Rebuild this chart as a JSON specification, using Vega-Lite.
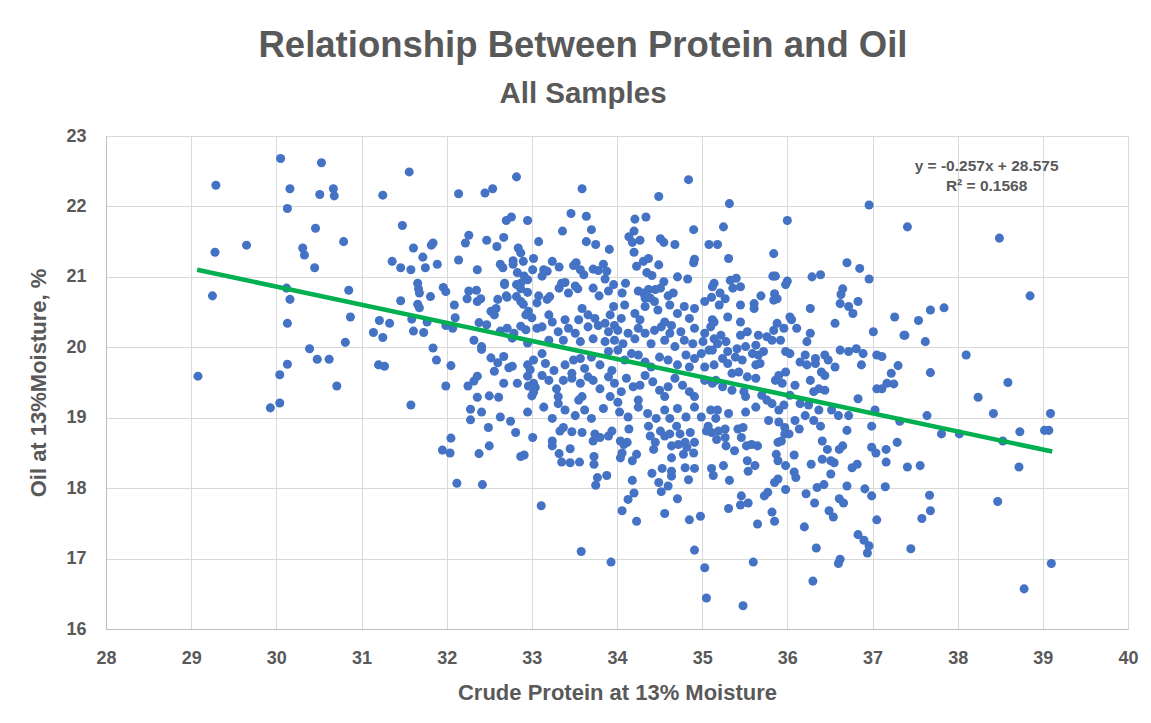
{
"$schema":"https://vega.github.io/schema/vega-lite/v6.json",
"width":1022,"height":493,
"autosize":{"type":"none"},
"padding":{"left":106,"top":136,"right":23,"bottom":94},
"background":"white",
"config":{"font":"Liberation Sans","view":{"stroke":null}},
"title":{"text":"Relationship Between Protein and Oil","subtitle":"All Samples","anchor":"middle","dx":-34,"font":"Liberation Sans","fontSize":36.5,"fontWeight":"bold","color":"#595959","subtitleFont":"Liberation Sans","subtitleFontSize":29.5,"subtitleFontWeight":"bold","subtitleColor":"#595959","subtitlePadding":15,"offset":19},
"datasets":{
"samples":[
{"protein":30.05,"oil":22.68},{"protein":30.53,"oil":22.62},{"protein":29.29,"oil":22.30},{"protein":30.16,"oil":22.25},{"protein":30.51,"oil":22.17},{"protein":30.67,"oil":22.25},{"protein":30.68,"oil":22.15},{"protein":30.13,"oil":21.97},{"protein":30.46,"oil":21.69},{"protein":29.65,"oil":21.45},{"protein":29.28,"oil":21.35},{"protein":30.31,"oil":21.41},{"protein":30.33,"oil":21.31},{"protein":30.79,"oil":21.50},{"protein":30.45,"oil":21.13},{"protein":30.12,"oil":20.84},{"protein":30.16,"oil":20.68},{"protein":30.85,"oil":20.81},{"protein":29.25,"oil":20.73},{"protein":30.87,"oil":20.43},{"protein":30.13,"oil":20.34},{"protein":30.81,"oil":20.07},{"protein":30.39,"oil":19.98},{"protein":30.48,"oil":19.83},{"protein":30.62,"oil":19.83},{"protein":30.13,"oil":19.76},{"protein":29.08,"oil":19.59},{"protein":30.04,"oil":19.61},{"protein":30.71,"oil":19.45},{"protein":30.04,"oil":19.21},{"protein":29.93,"oil":19.14},
{"protein":31.56,"oil":22.49},{"protein":31.25,"oil":22.16},{"protein":32.14,"oil":22.18},{"protein":32.45,"oil":22.19},{"protein":32.54,"oil":22.25},{"protein":32.82,"oil":22.42},{"protein":33.59,"oil":22.25},
{"protein":31.48,"oil":21.73},{"protein":32.70,"oil":21.80},{"protein":32.76,"oil":21.85},{"protein":32.95,"oil":21.80},{"protein":33.46,"oil":21.90},{"protein":33.64,"oil":21.86},{"protein":33.36,"oil":21.65},{"protein":33.70,"oil":21.67},{"protein":32.26,"oil":21.59},{"protein":32.22,"oil":21.48},{"protein":32.47,"oil":21.52},{"protein":32.59,"oil":21.43},{"protein":32.67,"oil":21.56},{"protein":33.08,"oil":21.50},{"protein":33.64,"oil":21.50},{"protein":33.75,"oil":21.46},{"protein":33.91,"oil":21.39},{"protein":31.61,"oil":21.41},{"protein":31.84,"oil":21.48},{"protein":31.82,"oil":21.45},{"protein":31.72,"oil":21.28},{"protein":31.36,"oil":21.22},{"protein":31.46,"oil":21.13},{"protein":31.58,"oil":21.10},{"protein":31.75,"oil":21.13},{"protein":31.89,"oil":21.18},{"protein":32.14,"oil":21.24},{"protein":32.36,"oil":21.10},{"protein":32.84,"oil":21.41},{"protein":32.87,"oil":21.34},{"protein":32.63,"oil":21.18},{"protein":32.66,"oil":21.13},{"protein":32.78,"oil":21.23},{"protein":32.78,"oil":21.18},{"protein":32.90,"oil":21.22},{"protein":33.02,"oil":21.26},{"protein":33.24,"oil":21.22},{"protein":33.32,"oil":21.14},{"protein":33.52,"oil":21.20},{"protein":33.49,"oil":21.16},{"protein":33.57,"oil":21.10},{"protein":33.61,"oil":21.03},{"protein":33.72,"oil":21.11},{"protein":33.78,"oil":21.09},{"protein":33.84,"oil":21.18},{"protein":33.88,"oil":21.08},{"protein":33.86,"oil":20.97},{"protein":33.14,"oil":21.10},{"protein":33.18,"oil":21.08},{"protein":33.12,"oil":21.01},{"protein":33.01,"oil":21.10},{"protein":32.83,"oil":21.06},{"protein":32.91,"oil":21.01},{"protein":32.95,"oil":20.96},{"protein":32.87,"oil":20.91},
{"protein":31.66,"oil":20.91},{"protein":31.67,"oil":20.83},{"protein":31.68,"oil":20.77},{"protein":31.96,"oil":20.85},{"protein":31.99,"oil":20.79},{"protein":31.81,"oil":20.72},{"protein":31.46,"oil":20.66},{"protein":31.66,"oil":20.61},{"protein":31.68,"oil":20.56},{"protein":32.09,"oil":20.60},{"protein":32.26,"oil":20.80},{"protein":32.35,"oil":20.81},{"protein":32.36,"oil":20.65},{"protein":32.24,"oil":20.69},{"protein":32.40,"oil":20.69},{"protein":32.60,"oil":20.68},{"protein":32.68,"oil":20.91},{"protein":32.68,"oil":20.89},{"protein":32.70,"oil":20.73},{"protein":32.71,"oil":20.71},{"protein":32.82,"oil":20.89},{"protein":32.87,"oil":20.83},{"protein":32.95,"oil":20.78},{"protein":32.82,"oil":20.72},{"protein":32.87,"oil":20.65},{"protein":32.90,"oil":20.61},{"protein":33.06,"oil":20.63},{"protein":33.08,"oil":20.73},{"protein":33.18,"oil":20.68},{"protein":33.21,"oil":20.72},{"protein":33.35,"oil":20.91},{"protein":33.39,"oil":20.92},{"protein":33.32,"oil":20.84},{"protein":33.43,"oil":20.77},{"protein":33.51,"oil":20.87},{"protein":33.54,"oil":20.83},{"protein":33.72,"oil":20.84},{"protein":33.79,"oil":20.73},{"protein":33.90,"oil":20.80},{"protein":33.96,"oil":20.89},
{"protein":32.58,"oil":20.55},{"protein":32.52,"oil":20.51},{"protein":32.56,"oil":20.46},{"protein":32.93,"oil":20.46},{"protein":33.00,"oil":20.42},{"protein":32.96,"oil":20.51},
{"protein":31.21,"oil":20.38},{"protein":31.33,"oil":20.34},{"protein":31.14,"oil":20.21},{"protein":31.25,"oil":20.14},{"protein":31.59,"oil":20.40},{"protein":31.61,"oil":20.23},{"protein":31.73,"oil":20.21},{"protein":31.77,"oil":20.36},{"protein":31.99,"oil":20.31},{"protein":32.07,"oil":20.27},{"protein":32.10,"oil":20.42},{"protein":32.38,"oil":20.35},{"protein":32.47,"oil":20.32},{"protein":32.32,"oil":20.10},{"protein":32.41,"oil":20.01},{"protein":32.41,"oil":19.97},{"protein":32.63,"oil":20.23},{"protein":32.71,"oil":20.27},{"protein":32.77,"oil":20.13},{"protein":32.79,"oil":20.20},{"protein":32.87,"oil":20.30},{"protein":32.93,"oil":20.25},{"protein":33.06,"oil":20.27},{"protein":32.95,"oil":20.06},
{"protein":31.84,"oil":19.99},{"protein":31.88,"oil":19.82},{"protein":31.20,"oil":19.75},{"protein":31.27,"oil":19.73},{"protein":32.05,"oil":19.74},{"protein":32.52,"oil":19.85},{"protein":32.67,"oil":19.87},{"protein":32.60,"oil":19.78},{"protein":32.56,"oil":19.66},{"protein":32.36,"oil":19.59},{"protein":32.32,"oil":19.52},{"protein":32.73,"oil":19.71},{"protein":32.77,"oil":19.73},{"protein":32.95,"oil":19.75},{"protein":33.02,"oil":19.82},{"protein":32.98,"oil":19.68},{"protein":32.95,"oil":19.59},{"protein":33.02,"oil":19.49},{"protein":31.99,"oil":19.45},{"protein":32.25,"oil":19.45},{"protein":32.67,"oil":19.49},{"protein":32.83,"oil":19.49},
{"protein":31.58,"oil":19.18},{"protein":32.36,"oil":19.29},{"protein":32.50,"oil":19.31},{"protein":32.61,"oil":19.29},{"protein":32.28,"oil":19.12},{"protein":32.41,"oil":19.08},{"protein":32.28,"oil":18.97},{"protein":32.63,"oil":19.01},{"protein":32.75,"oil":18.95},{"protein":32.49,"oil":18.86},{"protein":32.81,"oil":18.79},{"protein":32.05,"oil":18.71},{"protein":31.95,"oil":18.54},{"protein":32.04,"oil":18.50},{"protein":32.38,"oil":18.49},{"protein":32.50,"oil":18.60},{"protein":32.12,"oil":18.07},{"protein":32.42,"oil":18.05},{"protein":32.96,"oil":19.45},{"protein":33.04,"oil":19.43},{"protein":33.00,"oil":19.31},{"protein":33.02,"oil":19.36},{"protein":32.95,"oil":19.08},{"protein":32.87,"oil":18.45},{"protein":32.91,"oil":18.47},{"protein":33.01,"oil":18.72},
{"protein":33.33,"oil":18.81},{"protein":33.37,"oil":18.86},{"protein":33.24,"oil":18.67},{"protein":33.24,"oil":18.60},{"protein":33.32,"oil":18.49},{"protein":33.35,"oil":18.37},{"protein":33.45,"oil":18.36},{"protein":33.56,"oil":18.37},{"protein":33.45,"oil":18.56},{"protein":33.47,"oil":18.80},{"protein":33.59,"oil":18.79},{"protein":33.74,"oil":18.77},{"protein":33.72,"oil":18.67},{"protein":33.80,"oil":18.72},{"protein":33.90,"oil":18.74},{"protein":33.94,"oil":18.81},{"protein":33.73,"oil":18.45},{"protein":33.73,"oil":18.34},{"protein":33.77,"oil":18.15},{"protein":33.88,"oil":18.18},{"protein":33.75,"oil":18.04},{"protein":33.11,"oil":17.75},{"protein":33.58,"oil":17.10},{"protein":33.93,"oil":16.95},
{"protein":34.84,"oil":22.38},{"protein":34.49,"oil":22.14},{"protein":35.32,"oil":22.04},{"protein":36.96,"oil":22.02},{"protein":34.21,"oil":21.82},{"protein":34.34,"oil":21.85},{"protein":36.00,"oil":21.80},{"protein":34.90,"oil":21.67},{"protein":35.25,"oil":21.71},{"protein":34.20,"oil":21.65},{"protein":34.14,"oil":21.57},{"protein":34.18,"oil":21.49},{"protein":34.27,"oil":21.52},{"protein":34.20,"oil":21.35},{"protein":34.51,"oil":21.54},{"protein":34.55,"oil":21.49},{"protein":34.68,"oil":21.46},{"protein":35.08,"oil":21.46},{"protein":35.18,"oil":21.46},{"protein":35.31,"oil":21.26},{"protein":35.84,"oil":21.33},{"protein":34.91,"oil":21.25},{"protein":34.90,"oil":21.20},{"protein":34.23,"oil":21.15},{"protein":34.31,"oil":21.22},{"protein":34.37,"oil":21.26},{"protein":34.49,"oil":21.17},{"protein":36.70,"oil":21.20},{"protein":36.85,"oil":21.12},{"protein":34.35,"oil":21.06},{"protein":34.41,"oil":21.02},{"protein":34.71,"oil":21.00},{"protein":34.83,"oil":20.97},{"protein":34.55,"oil":20.93},{"protein":34.10,"oil":20.91},{"protein":35.14,"oil":20.91},{"protein":35.12,"oil":20.86},{"protein":35.33,"oil":20.95},{"protein":35.40,"oil":20.98},{"protein":35.36,"oil":20.84},{"protein":35.45,"oil":20.86},{"protein":35.83,"oil":21.01},{"protein":35.86,"oil":21.01},{"protein":36.00,"oil":20.94},{"protein":35.98,"oil":20.89},{"protein":36.29,"oil":21.00},{"protein":36.39,"oil":21.03},{"protein":36.96,"oil":20.97},{"protein":36.65,"oil":20.83},{"protein":36.63,"oil":20.75},{"protein":35.69,"oil":20.73},{"protein":35.85,"oil":20.76},{"protein":35.88,"oil":20.69},{"protein":35.21,"oil":20.77},{"protein":35.11,"oil":20.71},{"protein":35.27,"oil":20.69},{"protein":34.60,"oil":20.73},{"protein":34.66,"oil":20.77},{"protein":34.25,"oil":20.80},{"protein":34.31,"oil":20.77},{"protein":34.37,"oil":20.82},{"protein":34.45,"oil":20.82},{"protein":34.51,"oil":20.84},{"protein":34.39,"oil":20.70},{"protein":34.33,"oil":20.70},{"protein":34.06,"oil":20.77},
{"protein":33.59,"oil":20.55},{"protein":33.66,"oil":20.46},{"protein":33.55,"oil":20.39},{"protein":33.74,"oil":20.41},{"protein":33.96,"oil":20.58},{"protein":34.09,"oil":20.60},{"protein":34.21,"oil":20.48},{"protein":34.33,"oil":20.58},{"protein":34.44,"oil":20.65},{"protein":34.48,"oil":20.53},{"protein":34.62,"oil":20.60},{"protein":34.71,"oil":20.48},{"protein":34.79,"oil":20.58},{"protein":34.91,"oil":20.55},{"protein":35.03,"oil":20.65},{"protein":35.12,"oil":20.39},{"protein":33.20,"oil":20.46},{"protein":33.24,"oil":20.36},{"protein":33.39,"oil":20.39},{"protein":33.92,"oil":20.46},{"protein":34.05,"oil":20.41},{"protein":33.86,"oil":20.34},{"protein":33.97,"oil":20.31},{"protein":34.27,"oil":20.39},{"protein":34.56,"oil":20.36},{"protein":34.64,"oil":20.31},{"protein":34.85,"oil":20.41},
{"protein":33.31,"oil":20.22},{"protein":33.43,"oil":20.27},{"protein":33.51,"oil":20.20},{"protein":33.66,"oil":20.29},{"protein":33.78,"oil":20.31},{"protein":33.90,"oil":20.22},{"protein":34.01,"oil":20.24},{"protein":34.13,"oil":20.20},{"protein":34.25,"oil":20.27},{"protein":34.33,"oil":20.20},{"protein":34.44,"oil":20.24},{"protein":34.52,"oil":20.29},{"protein":34.62,"oil":20.20},{"protein":34.75,"oil":20.22},{"protein":34.91,"oil":20.27},{"protein":35.03,"oil":20.20},{"protein":35.10,"oil":20.29},{"protein":33.37,"oil":20.10},{"protein":33.57,"oil":20.08},{"protein":33.72,"oil":20.12},{"protein":33.86,"oil":20.08},{"protein":33.97,"oil":20.10},{"protein":34.07,"oil":20.05},{"protein":34.21,"oil":20.12},{"protein":34.40,"oil":20.05},{"protein":34.56,"oil":20.10},{"protein":34.68,"oil":20.01},{"protein":34.79,"oil":20.10},{"protein":34.89,"oil":20.05},{"protein":35.01,"oil":20.08},{"protein":35.14,"oil":20.12},{"protein":33.12,"oil":20.29},{"protein":33.20,"oil":20.10},
{"protein":33.16,"oil":19.77},{"protein":33.26,"oil":19.67},{"protein":33.39,"oil":19.75},{"protein":33.49,"oil":19.82},{"protein":33.57,"oil":19.84},{"protein":33.62,"oil":19.70},{"protein":33.70,"oil":19.86},{"protein":33.80,"oil":19.75},{"protein":33.90,"oil":19.94},{"protein":34.01,"oil":19.96},{"protein":33.94,"oil":19.67},{"protein":34.09,"oil":19.82},{"protein":34.17,"oil":19.91},{"protein":34.25,"oil":19.89},{"protein":34.33,"oil":19.79},{"protein":34.40,"oil":19.72},{"protein":34.50,"oil":19.86},{"protein":34.60,"oil":19.82},{"protein":34.71,"oil":19.75},{"protein":34.81,"oil":19.89},{"protein":34.91,"oil":19.84},{"protein":34.99,"oil":19.91},{"protein":35.08,"oil":19.96},{"protein":35.03,"oil":19.72},{"protein":34.85,"oil":19.72},{"protein":35.14,"oil":19.75},{"protein":33.12,"oil":19.91},{"protein":33.47,"oil":19.63},
{"protein":33.12,"oil":19.60},{"protein":33.20,"oil":19.53},{"protein":33.29,"oil":19.41},{"protein":33.37,"oil":19.53},{"protein":33.47,"oil":19.56},{"protein":33.57,"oil":19.49},{"protein":33.66,"oil":19.58},{"protein":33.72,"oil":19.53},{"protein":33.80,"oil":19.41},{"protein":33.90,"oil":19.58},{"protein":33.97,"oil":19.49},{"protein":34.05,"oil":19.37},{"protein":34.11,"oil":19.56},{"protein":34.19,"oil":19.44},{"protein":34.27,"oil":19.46},{"protein":34.33,"oil":19.60},{"protein":34.42,"oil":19.51},{"protein":34.50,"oil":19.39},{"protein":34.60,"oil":19.44},{"protein":34.68,"oil":19.56},{"protein":34.77,"oil":19.46},{"protein":34.85,"oil":19.37},{"protein":34.91,"oil":19.30},{"protein":35.03,"oil":19.53},{"protein":35.12,"oil":19.49},{"protein":33.31,"oil":19.30},{"protein":33.59,"oil":19.30},{"protein":33.92,"oil":19.30},{"protein":34.25,"oil":19.25},{"protein":34.56,"oil":19.30},
{"protein":33.14,"oil":19.15},{"protein":33.24,"oil":18.99},{"protein":33.39,"oil":19.11},{"protein":33.51,"oil":19.03},{"protein":33.62,"oil":19.11},{"protein":33.70,"oil":18.99},{"protein":33.84,"oil":19.13},{"protein":34.01,"oil":19.22},{"protein":34.03,"oil":19.08},{"protein":34.13,"oil":19.01},{"protein":34.25,"oil":19.15},{"protein":34.36,"oil":19.06},{"protein":34.46,"oil":18.99},{"protein":34.56,"oil":19.11},{"protein":34.62,"oil":18.99},{"protein":34.71,"oil":19.13},{"protein":34.81,"oil":19.01},{"protein":34.91,"oil":19.15},{"protein":34.99,"oil":19.01},{"protein":35.10,"oil":19.11},{"protein":33.55,"oil":19.25},{"protein":33.31,"oil":19.20},
{"protein":35.20,"oil":20.60},{"protein":35.45,"oil":20.60},{"protein":35.61,"oil":20.62},{"protein":35.61,"oil":20.55},{"protein":35.84,"oil":20.67},{"protein":36.27,"oil":20.55},{"protein":36.62,"oil":20.62},{"protein":36.72,"oil":20.58},{"protein":36.83,"oil":20.65},{"protein":36.77,"oil":20.48},{"protein":35.30,"oil":20.43},{"protein":35.45,"oil":20.36},{"protein":35.14,"oil":20.36},{"protein":35.88,"oil":20.34},{"protein":36.03,"oil":20.43},{"protein":36.05,"oil":20.39},{"protein":35.96,"oil":20.27},{"protein":36.11,"oil":20.27},{"protein":36.56,"oil":20.34},{"protein":37.01,"oil":20.22},{"protein":36.27,"oil":20.20},{"protein":36.23,"oil":20.08},{"protein":35.53,"oil":20.22},{"protein":35.45,"oil":20.17},{"protein":35.66,"oil":20.17},{"protein":35.76,"oil":20.15},{"protein":35.84,"oil":20.24},{"protein":35.82,"oil":20.10},{"protein":35.92,"oil":20.10},{"protein":35.22,"oil":20.17},{"protein":35.18,"oil":20.05},{"protein":35.28,"oil":20.08},{"protein":35.12,"oil":19.96},{"protein":35.30,"oil":19.94},{"protein":35.41,"oil":19.98},{"protein":35.51,"oil":20.01},{"protein":35.63,"oil":20.03},{"protein":35.72,"oil":19.94},{"protein":35.59,"oil":19.91},{"protein":35.98,"oil":19.94},{"protein":36.03,"oil":19.91},{"protein":36.21,"oil":19.89},{"protein":36.33,"oil":19.84},{"protein":36.44,"oil":19.89},{"protein":36.48,"oil":19.82},{"protein":36.62,"oil":19.96},{"protein":36.72,"oil":19.94},{"protein":36.81,"oil":19.98},{"protein":36.89,"oil":19.91},{"protein":37.05,"oil":19.89},{"protein":36.87,"oil":19.75},{"protein":35.24,"oil":19.84},{"protein":35.30,"oil":19.77},{"protein":35.39,"oil":19.86},{"protein":35.47,"oil":19.82},{"protein":35.66,"oil":19.89},{"protein":35.63,"oil":19.75},{"protein":35.68,"oil":19.77},{"protein":36.15,"oil":19.79},{"protein":36.23,"oil":19.75},{"protein":36.33,"oil":19.77},{"protein":36.40,"oil":19.65},{"protein":36.44,"oil":19.60},{"protein":36.56,"oil":19.72},{"protein":35.35,"oil":19.63},{"protein":35.43,"oil":19.65},{"protein":35.53,"oil":19.58},{"protein":35.63,"oil":19.56},{"protein":35.86,"oil":19.53},{"protein":35.90,"oil":19.60},{"protein":35.98,"oil":19.65},{"protein":35.94,"oil":19.49},{"protein":36.09,"oil":19.46},{"protein":36.27,"oil":19.53},{"protein":36.37,"oil":19.41},{"protein":36.44,"oil":19.39},{"protein":36.31,"oil":19.37},{"protein":35.16,"oil":19.53},{"protein":35.24,"oil":19.44},{"protein":35.35,"oil":19.39},{"protein":35.49,"oil":19.37},{"protein":35.51,"oil":19.30},{"protein":35.70,"oil":19.32},{"protein":35.76,"oil":19.25},{"protein":35.82,"oil":19.20},{"protein":35.90,"oil":19.11},{"protein":35.96,"oil":19.18},{"protein":36.03,"oil":19.32},{"protein":36.15,"oil":19.20},{"protein":36.25,"oil":19.18},{"protein":36.37,"oil":19.11},{"protein":36.52,"oil":19.11},{"protein":36.60,"oil":19.03},{"protein":36.72,"oil":19.03},{"protein":36.83,"oil":19.27},{"protein":37.03,"oil":19.11},{"protein":37.05,"oil":19.41},{"protein":35.63,"oil":19.15},{"protein":35.51,"oil":19.08},{"protein":35.31,"oil":19.06},{"protein":35.18,"oil":19.11},{"protein":35.16,"oil":18.99},{"protein":35.78,"oil":18.96},{"protein":36.09,"oil":18.96},{"protein":36.21,"oil":19.03},{"protein":36.31,"oil":18.96},{"protein":35.90,"oil":18.94},
{"protein":34.14,"oil":18.84},{"protein":34.04,"oil":18.67},{"protein":34.08,"oil":18.62},{"protein":34.12,"oil":18.65},{"protein":34.04,"oil":18.43},{"protein":34.06,"oil":18.50},{"protein":34.23,"oil":18.48},{"protein":34.18,"oil":18.39},{"protein":34.37,"oil":18.88},{"protein":34.51,"oil":18.81},{"protein":34.39,"oil":18.74},{"protein":34.45,"oil":18.65},{"protein":34.43,"oil":18.55},{"protein":34.56,"oil":18.74},{"protein":34.62,"oil":18.77},{"protein":34.64,"oil":18.60},{"protein":34.72,"oil":18.62},{"protein":34.74,"oil":18.77},{"protein":34.70,"oil":18.88},{"protein":34.86,"oil":18.79},{"protein":34.80,"oil":18.65},{"protein":34.82,"oil":18.58},{"protein":34.91,"oil":18.65},{"protein":34.90,"oil":18.50},{"protein":34.78,"oil":18.48},{"protein":34.64,"oil":18.43},{"protein":34.53,"oil":18.28},{"protein":34.64,"oil":18.24},{"protein":34.64,"oil":18.17},{"protein":34.80,"oil":18.29},{"protein":34.91,"oil":18.28},{"protein":34.84,"oil":18.12},{"protein":34.41,"oil":18.21},{"protein":34.49,"oil":18.08},{"protein":34.52,"oil":17.95},{"protein":34.60,"oil":18.03},{"protein":34.18,"oil":18.11},{"protein":35.07,"oil":18.88},{"protein":35.05,"oil":18.81},{"protein":35.11,"oil":18.79},{"protein":35.19,"oil":18.81},{"protein":35.17,"oil":18.69},{"protein":35.27,"oil":18.84},{"protein":35.27,"oil":18.72},{"protein":35.28,"oil":18.60},{"protein":35.11,"oil":18.28},{"protein":35.13,"oil":18.18},{"protein":35.25,"oil":18.32},{"protein":35.32,"oil":18.11},{"protein":35.38,"oil":18.53},{"protein":35.42,"oil":18.84},{"protein":35.48,"oil":18.86},{"protein":35.46,"oil":18.72},{"protein":35.52,"oil":18.60},{"protein":35.58,"oil":18.62},{"protein":35.65,"oil":18.60},{"protein":35.53,"oil":18.39},{"protein":35.62,"oil":18.32},{"protein":35.54,"oil":18.24},{"protein":35.97,"oil":18.86},{"protein":36.02,"oil":18.77},{"protein":35.97,"oil":18.77},{"protein":36.14,"oil":18.84},{"protein":35.89,"oil":18.65},{"protein":35.93,"oil":18.67},{"protein":35.87,"oil":18.48},{"protein":35.89,"oil":18.39},{"protein":35.98,"oil":18.32},{"protein":36.08,"oil":18.23},{"protein":36.10,"oil":18.15},{"protein":36.08,"oil":18.47},{"protein":35.85,"oil":18.08},{"protein":35.89,"oil":18.13},{"protein":35.98,"oil":17.98},{"protein":36.28,"oil":18.34},{"protein":36.39,"oil":18.88},{"protein":36.41,"oil":18.67},{"protein":36.47,"oil":18.55},{"protein":36.41,"oil":18.41},{"protein":36.51,"oil":18.39},{"protein":36.55,"oil":18.36},{"protein":36.51,"oil":18.20},{"protein":36.61,"oil":18.55},{"protein":36.65,"oil":18.60},{"protein":36.70,"oil":18.82},{"protein":36.76,"oil":18.29},{"protein":36.82,"oil":18.34},{"protein":36.70,"oil":18.03},{"protein":36.99,"oil":18.88},{"protein":36.99,"oil":18.58},{"protein":37.04,"oil":18.50},{"protein":36.35,"oil":18.01},{"protein":36.43,"oil":18.05},{"protein":36.91,"oil":17.99},{"protein":36.99,"oil":17.89},
{"protein":34.20,"oil":17.93},{"protein":34.13,"oil":17.84},{"protein":34.06,"oil":17.68},{"protein":34.23,"oil":17.53},{"protein":34.71,"oil":17.85},{"protein":34.56,"oil":17.64},{"protein":34.85,"oil":17.55},{"protein":34.98,"oil":17.60},{"protein":34.91,"oil":17.12},{"protein":35.03,"oil":16.87},{"protein":35.05,"oil":16.44},{"protein":35.31,"oil":17.71},{"protein":35.45,"oil":17.76},{"protein":35.46,"oil":17.89},{"protein":35.54,"oil":17.79},{"protein":35.65,"oil":17.49},{"protein":35.60,"oil":16.95},{"protein":35.48,"oil":16.33},{"protein":35.73,"oil":17.89},{"protein":35.77,"oil":17.94},{"protein":35.82,"oil":17.66},{"protein":35.85,"oil":17.53},{"protein":36.22,"oil":17.92},{"protein":36.32,"oil":17.79},{"protein":36.20,"oil":17.45},{"protein":36.34,"oil":17.15},{"protein":36.30,"oil":16.68},{"protein":36.49,"oil":17.68},{"protein":36.54,"oil":17.59},{"protein":36.61,"oil":17.85},{"protein":36.66,"oil":17.79},{"protein":36.83,"oil":17.34},{"protein":36.90,"oil":17.26},{"protein":36.96,"oil":17.18},{"protein":36.94,"oil":17.08},{"protein":36.62,"oil":16.99},{"protein":36.60,"oil":16.93},{"protein":37.05,"oil":17.55},
{"protein":37.41,"oil":21.71},{"protein":38.49,"oil":21.55},{"protein":38.85,"oil":20.73},{"protein":37.26,"oil":20.43},{"protein":37.54,"oil":20.38},{"protein":37.68,"oil":20.53},{"protein":37.84,"oil":20.56},{"protein":37.37,"oil":20.17},{"protein":37.38,"oil":20.17},{"protein":37.62,"oil":20.08},{"protein":37.11,"oil":19.87},{"protein":37.30,"oil":19.74},{"protein":37.22,"oil":19.63},{"protein":37.68,"oil":19.64},{"protein":38.10,"oil":19.89},{"protein":37.17,"oil":19.49},{"protein":37.25,"oil":19.48},{"protein":38.59,"oil":19.50},{"protein":37.11,"oil":19.41},{"protein":38.24,"oil":19.29},{"protein":38.42,"oil":19.06},{"protein":39.09,"oil":19.06},{"protein":37.64,"oil":19.03},{"protein":37.32,"oil":18.95},{"protein":37.81,"oil":18.77},{"protein":38.02,"oil":18.77},{"protein":38.53,"oil":18.67},{"protein":38.73,"oil":18.80},{"protein":39.02,"oil":18.82},{"protein":39.07,"oil":18.82},{"protein":37.29,"oil":18.65},{"protein":37.16,"oil":18.55},{"protein":37.16,"oil":18.37},{"protein":37.41,"oil":18.30},{"protein":37.56,"oil":18.32},{"protein":38.72,"oil":18.30},{"protein":37.15,"oil":18.02},{"protein":37.67,"oil":17.90},{"protein":37.68,"oil":17.68},{"protein":37.58,"oil":17.57},{"protein":38.47,"oil":17.81},{"protein":37.45,"oil":17.14},{"protein":39.10,"oil":16.93},{"protein":38.78,"oil":16.57}
],
"trend":[{"protein":29.07,"oil":21.10},{"protein":39.11,"oil":18.52}],
"notes":[{"protein":38.34,"oil":22.58,"label":"y = -0.257x + 28.575"},{"protein":38.34,"oil":22.29,"label":"R² = 0.1568"}]
},
"encoding":{
"x":{"field":"protein","type":"quantitative","scale":{"domain":[28,40],"nice":false,"zero":false},
 "axis":{"title":"Crude Protein at 13% Moisture","values":[28,29,30,31,32,33,34,35,36,37,38,39,40],"grid":true,"gridColor":"#D9D9D9","gridWidth":1,"domainColor":"#BFBFBF","ticks":false,"labelFont":"Liberation Sans","labelFontSize":18,"labelFontWeight":"bold","labelColor":"#595959","labelPadding":20,"labelFlush":false,"titleFont":"Liberation Sans","titleFontSize":22,"titleFontWeight":"bold","titleColor":"#595959","titlePadding":15}},
"y":{"field":"oil","type":"quantitative","scale":{"domain":[16,23],"nice":false,"zero":false},
 "axis":{"title":"Oil at 13%Moisture, %","values":[16,17,18,19,20,21,22,23],"grid":true,"gridColor":"#D9D9D9","gridWidth":1,"domainColor":"#BFBFBF","ticks":false,"labelFont":"Liberation Sans","labelFontSize":18,"labelFontWeight":"bold","labelColor":"#595959","labelPadding":20,"labelFlush":false,"titleFont":"Liberation Sans","titleFontSize":22,"titleFontWeight":"bold","titleColor":"#595959","titlePadding":15}}
},
"layer":[
{"data":{"name":"samples"},"mark":{"type":"point","filled":true,"shape":"circle","size":82,"color":"#4472C4","opacity":1}},
{"data":{"name":"trend"},"mark":{"type":"line","color":"#00B050","strokeWidth":4.5}},
{"data":{"name":"notes"},"mark":{"type":"text","font":"Liberation Sans","fontSize":15.5,"fontWeight":"bold","color":"#595959","align":"center","baseline":"middle"},"encoding":{"text":{"field":"label"}}}
]
}
